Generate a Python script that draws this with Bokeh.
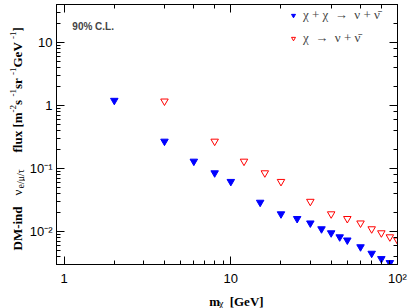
import math
from bokeh.plotting import figure
from bokeh.layouts import row, column
from bokeh.models import (LogAxis, LogTicker, CustomJSTickFormatter, Label,
                          Legend, LegendItem, Range1d)
from bokeh.embed import file_html
from bokeh.resources import INLINE

# ---------------- data ----------------
mass_annih = [2, 4, 6, 8, 10, 15, 20, 25, 30, 35, 40, 45, 50, 60, 70, 80, 90]
flux_annih = [1.2, 0.27, 0.13, 0.085, 0.062, 0.029, 0.019, 0.016, 0.0136,
              0.011, 0.0095, 0.0082, 0.0073, 0.0057, 0.0045, 0.0037, 0.0032]
mass_decay = [4, 8, 12, 16, 20, 30, 40, 50, 60, 70, 80, 90, 100]
flux_decay = [1.17, 0.27, 0.13, 0.085, 0.062, 0.030, 0.019, 0.016, 0.0136,
              0.011, 0.0095, 0.0082, 0.0073]
label_annih = "χ + χ  →  ν + ν\u0304"
label_decay = "χ  →  ν + ν\u0304"
x_ticks = [1, 10, 100]
x_tick_labels = ["1", "10", "10²"]
y_ticks = [0.01, 0.1, 1, 10]
y_tick_labels = ["10⁻²", "10⁻¹", "1", "10"]

W, H = 409, 308
YT_W = 25            # strip holding the y-axis title
XT_H = 20            # strip holding the x-axis title
FL, FR, FT, FB = 56, 397, 4, 266   # frame edges in page pixels
SERIF = "Liberation Serif"
SANS = "Liberation Sans"

p = figure(width=W - YT_W, height=H - XT_H, x_axis_type="log", y_axis_type="log",
           x_range=Range1d(0.9, 100), y_range=Range1d(0.003, 40),
           output_backend="svg", toolbar_location=None,
           min_border_left=FL - YT_W, min_border_right=W - FR, min_border_top=FT,
           min_border_bottom=H - XT_H - FB)
p.background_fill_color = "white"
p.border_fill_color = "white"
p.outline_line_color = "black"
p.xgrid.visible = False
p.ygrid.visible = False

code = """
const lt = Math.log10(tick);
for (let i = 0; i < tvals.length; i++) {
  if (Math.abs(lt - Math.log10(tvals[i])) < 1e-6) return tlabs[i];
}
return "";
"""
xfmt = CustomJSTickFormatter(args=dict(tvals=x_ticks, tlabs=x_tick_labels), code=code)
yfmt = CustomJSTickFormatter(args=dict(tvals=y_ticks, tlabs=y_tick_labels), code=code)


def style(ax, show):
    ax.major_tick_in = 8
    ax.major_tick_out = 0
    ax.minor_tick_in = 4
    ax.minor_tick_out = 0
    ax.axis_line_color = "black"
    ax.major_tick_line_color = "black"
    ax.minor_tick_line_color = "black"
    if show:
        ax.major_label_text_font = SANS
        ax.major_label_text_font_size = "13px"
        ax.major_label_text_color = "black"
    else:
        ax.major_label_text_font_size = "0px"
        ax.major_label_standoff = 0
        ax.formatter = CustomJSTickFormatter(code="return '';")


style(p.xaxis[0], True)
style(p.yaxis[0], True)
p.xaxis[0].formatter = xfmt
p.yaxis[0].formatter = yfmt
p.xaxis[0].major_label_standoff = 6
p.yaxis[0].major_label_standoff = 4

top = LogAxis(ticker=LogTicker())
right = LogAxis(ticker=LogTicker())
style(top, False)
style(right, False)
p.add_layout(top, "above")
p.add_layout(right, "right")

r1 = p.scatter(mass_annih, flux_annih, marker="inverted_triangle", size=7.5,
               fill_color="#0000ff", line_color="#0000ff")
r2 = p.scatter(mass_decay, flux_decay, marker="inverted_triangle", size=7.5,
               fill_color=None, line_color="#ff0000", line_width=1)

legend = Legend(items=[LegendItem(label=label_annih, renderers=[r1]),
                       LegendItem(label=label_decay, renderers=[r2])],
                location=(232, 216))
legend.label_text_font = SERIF
legend.label_text_font_size = "13px"
legend.border_line_color = None
legend.background_fill_alpha = 0
legend.padding = 0
legend.margin = 0
legend.glyph_width = 10
legend.glyph_height = 20
legend.label_standoff = 5
legend.spacing = 3
p.add_layout(legend)

p.add_layout(Label(x=1.12, y=18, text="90% C.L.", text_font=SANS,
                   text_font_style="bold", text_font_size="10px",
                   text_baseline="alphabetic"))


def strip(w, h, x0, y0):
    """Axis-free figure whose data units are page pixels (y downwards)."""
    f = figure(width=w, height=h, x_range=Range1d(x0, x0 + w),
               y_range=Range1d(y0 + h, y0), output_backend="svg",
               toolbar_location=None, x_axis_location=None,
               y_axis_location=None, min_border=0)
    f.outline_line_color = None
    f.xgrid.visible = False
    f.ygrid.visible = False
    f.background_fill_color = "white"
    f.border_fill_color = "white"
    return f


def lab(f, text, px, py, size, bold, angle=0.0):
    f.add_layout(Label(x=px, y=py, text=text, angle=angle, text_align="left",
                       text_baseline="alphabetic", text_font=SERIF,
                       text_font_style="bold" if bold else "normal",
                       text_font_size=f"{size}px", text_color="black"))


# y axis title, reading bottom to top (baseline at x=17)
ys = strip(YT_W, H, 0, 0)
A = math.pi / 2
lab(ys, "DM-ind", 17, 250, 13, True, A)
lab(ys, "ν", 17, 195, 13, False, A)
lab(ys, "e/μ/τ", 20, 188, 10, False, A)
lab(ys, "flux [m", 17, 152, 13, True, A)
lab(ys, "-2", 12, 112, 9, False, A)
lab(ys, " s", 17, 104.5, 13, True, A)
lab(ys, "-1", 12, 96, 9, False, A)
lab(ys, " sr", 17, 88.5, 13, True, A)
lab(ys, "-1", 12, 74.5, 9, False, A)
lab(ys, " GeV", 17, 67, 13, True, A)
lab(ys, "-1", 12, 38.5, 9, False, A)
lab(ys, "]", 17, 31, 13, True, A)

# x axis title
xs = strip(W - YT_W, XT_H, YT_W, H - XT_H)
lab(xs, "m", 197, 301, 13, True)
lab(xs, "χ", 208, 303, 10, False)
lab(xs, "[GeV]", 220, 301, 13, True)

layout = row(ys, column(p, xs, spacing=0), spacing=0)
open("out.html", "w").write(file_html(layout, INLINE))
